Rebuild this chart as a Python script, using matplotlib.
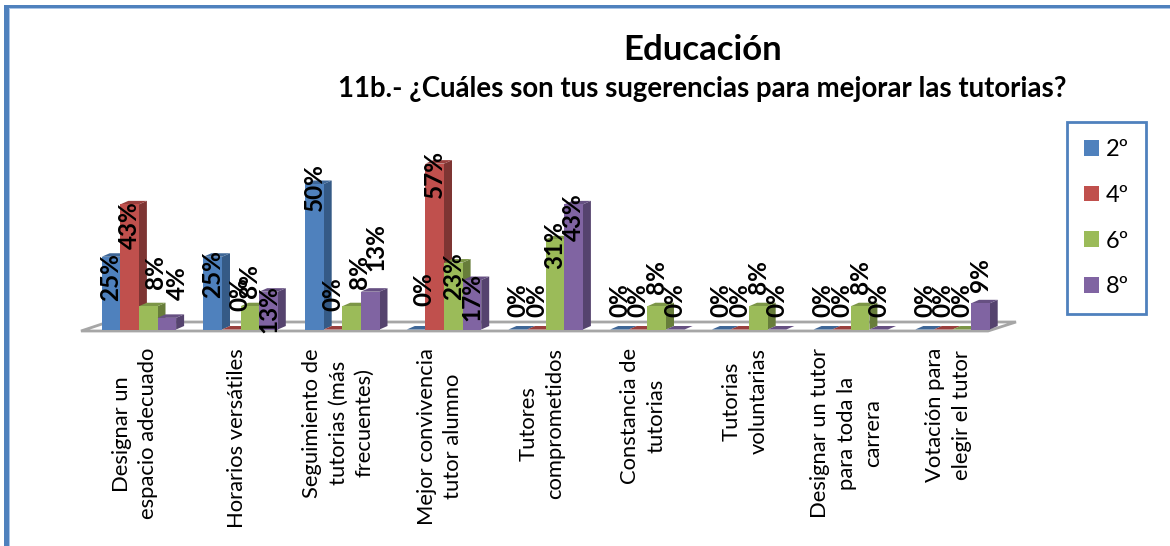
import matplotlib
matplotlib.use("Agg")
import matplotlib.pyplot as plt
from matplotlib.patches import Polygon, Rectangle

plt.rcParams['font.family'] = ['Lato', 'DejaVu Sans']

categories = ["Designar un\nespacio adecuado", "Horarios versátiles",
              "Seguimiento de\ntutorias (más\nfrecuentes)",
              "Mejor convivencia\ntutor alumno", "Tutores\ncomprometidos",
              "Constancia de\ntutorias", "Tutorias\nvoluntarias",
              "Designar un tutor\npara toda la\ncarrera",
              "Votación para\nelegir el tutor"]
series_names = ["2º", "4º", "6º", "8º"]
s2 = [25, 25, 50, 0, 0, 0, 0, 0, 0]
s4 = [43, 0, 0, 57, 0, 0, 0, 0, 0]
s6 = [8, 8, 8, 23, 31, 8, 8, 8, 0]
s8 = [4, 13, 13, 17, 43, 0, 0, 0, 9]

# layout (pixels) - hand placed data labels of the original
label_bottom = [[300, 248, 288, 299], [297, 310, 297, 332], [210, 310, 288, 270],
                [305, 197, 299, 320], [316, 316, 268, 240], [316, 316, 293, 316],
                [316, 316, 293, 316], [316, 316, 293, 316], [316, 316, 316, 291]]
label_dx = [[0, 0, 7, 11], [0, 9, 0, 0], [0, 0, 8, 6], [8, 0, 0, 0], [0] * 4, [0] * 4,
            [0] * 4, [0] * 4, [0] * 4]

front = ["#4F81BD", "#C0504D", "#9BBB59", "#8064A2"]
top = ["#3F6797", "#9A403E", "#7C9647", "#665082"]
side = ["#355A86", "#7E3533", "#677D3A", "#55436E"]

W, H = 1170, 546
BASE = 329.5
PX = 2.91          # pixels per percentage point
X0, GROUP, BAR = 101.7, 101.7, 18.6
DX, DY = 8.0, 3.5


def v(py):
    return (BASE - py) / PX


fig = plt.figure(figsize=(W / 100, H / 100), dpi=100, facecolor="white")
ax = fig.add_axes([0, 0, 1, 1])
ax.set_xlim(0, W)
ax.set_ylim(v(H), v(0))
ax.axis("off")

# chart frame (left and top only)
ax.add_patch(Rectangle((4, v(H)), 5, v(5) - v(H), fc="#4F81BD", ec="none"))
ax.add_patch(Rectangle((9, v(H)), 1, v(8) - v(H), fc="#A9C4E6", ec="none"))
ax.add_patch(Rectangle((4, v(8)), W, v(5) - v(8), fc="#4F81BD", ec="none"))
ax.add_patch(Rectangle((9, v(9)), W, v(8) - v(9), fc="#A9C4E6", ec="none"))

# floor
ax.add_patch(Polygon([(81, v(331)), (988, v(331)), (1016, v(322)), (108, v(322))],
                     closed=True, fc="white", ec="#A6A6A6", lw=2.0, zorder=1))

series = [s2, s4, s6, s8]
for i in range(len(categories)):
    for j, s in enumerate(series):
        x = X0 + GROUP * i + BAR * j
        val = s[i]
        d = DY / PX
        ax.add_patch(Polygon([(x + BAR, 0), (x + BAR + DX, d), (x + BAR + DX, val + d), (x + BAR, val)],
                             closed=True, fc=side[j], ec="none", zorder=2 + i + j * 0.1))
        ax.add_patch(Polygon([(x, val), (x + DX, val + d), (x + BAR + DX, val + d), (x + BAR, val)],
                             closed=True, fc=top[j], ec="none", zorder=2 + i + j * 0.1))
        ax.bar(x, val, BAR, align="edge", color=front[j], zorder=2 + i + j * 0.1)
        ax.text(x + BAR / 2 + label_dx[i][j], v(label_bottom[i][j] + 1), f"{val}%",
                rotation=90, ha="center", va="bottom", fontsize=17.5, fontweight="bold",
                color="black", zorder=40)

for i, c in enumerate(categories):
    ax.text(135 + GROUP * i, v(348), c, rotation=90, ha="center", va="top",
            multialignment="center", fontsize=15.8, linespacing=1.4, color="black", zorder=30)

ax.text(703, v(50), "Educación", ha="center", va="center", fontsize=25, fontweight="bold")
ax.text(702, v(89), "11b.- ¿Cuáles son tus sugerencias para mejorar las tutorias?",
        ha="center", va="center", fontsize=19.9, fontweight="bold")

handles = [Rectangle((0, 0), 1, 1, fc=c, ec="none") for c in front]
leg = ax.legend(handles, series_names, loc="upper left",
                bbox_to_anchor=(1067 / W, 1 - 122 / H), bbox_transform=fig.transFigure,
                frameon=True, fancybox=False, edgecolor="#4F81BD", framealpha=1,
                fontsize=17, handlelength=0.64, handleheight=0.64, handletextpad=0.3,
                labelspacing=1.05, borderpad=0.72, borderaxespad=0)
leg.get_frame().set_linewidth(2)
leg.set_zorder(50)

fig.savefig("out.png", dpi=100)
